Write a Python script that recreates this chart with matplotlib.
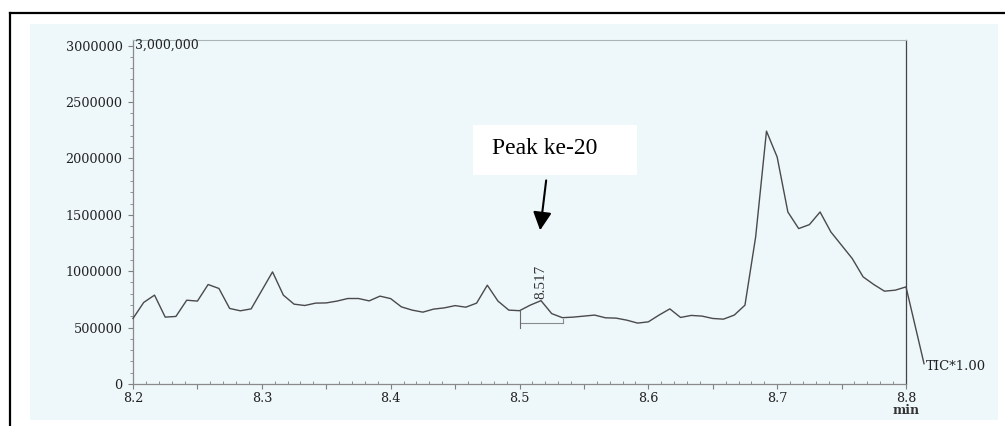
import matplotlib
matplotlib.use('Agg')
import matplotlib.pyplot as plt
from matplotlib.patches import Rectangle
from matplotlib.lines import Line2D
from matplotlib.ticker import MultipleLocator, FuncFormatter

# retention time (min) and total ion current
time = [8.2000, 8.2083, 8.2167, 8.2250, 8.2333, 8.2417, 8.2500, 8.2583, 8.2667, 8.2750,
        8.2833, 8.2917, 8.3000, 8.3083, 8.3167, 8.3250, 8.3333, 8.3417, 8.3500, 8.3583,
        8.3667, 8.3750, 8.3833, 8.3917, 8.4000, 8.4083, 8.4167, 8.4250, 8.4333, 8.4417,
        8.4500, 8.4583, 8.4667, 8.4750, 8.4833, 8.4917, 8.5000, 8.5083, 8.5167, 8.5250,
        8.5333, 8.5417, 8.5500, 8.5583, 8.5667, 8.5750, 8.5833, 8.5917, 8.6000, 8.6083,
        8.6167, 8.6250, 8.6333, 8.6417, 8.6500, 8.6583, 8.6667, 8.6750, 8.6833, 8.6917,
        8.7000, 8.7083, 8.7167, 8.7250, 8.7333, 8.7417, 8.7500, 8.7583, 8.7667, 8.7750,
        8.7833, 8.7917, 8.8000, 8.8140]
tic = [581000, 723000, 788000, 593000, 599000, 743000, 735000, 882000, 847000, 670000,
       649000, 666000, 830000, 994000, 788000, 708000, 696000, 717000, 719000, 735000,
       758000, 758000, 737000, 779000, 757000, 684000, 655000, 637000, 664000, 675000,
       695000, 681000, 717000, 876000, 735000, 655000, 650000, 699000, 739000, 624000,
       588000, 593000, 602000, 611000, 587000, 584000, 566000, 540000, 551000, 611000,
       666000, 590000, 608000, 602000, 581000, 575000, 611000, 699000, 1304000, 2242000,
       2012000, 1525000, 1378000, 1413000, 1525000, 1348000, 1230000, 1112000, 950000, 882000,
       823000, 832000, 861000, 180000]

# integrated peak: apex index and baseline
peak_idx = 38
base_start, base_end = 8.500, 8.534
base_level = 542000

W, H = 1005, 426
fig = plt.figure(figsize=(W / 100, H / 100), dpi=100)
fig.patch.set_facecolor('white')

# scanned sheet background and the black frame
fig.add_artist(Rectangle((30 / W, 1 - 420 / H), 968 / W, 396 / H, transform=fig.transFigure,
                         facecolor='#eef7fa', edgecolor='none', zorder=0))
fig.add_artist(Line2D([10 / W, 1], [1 - 13 / H, 1 - 13 / H], transform=fig.transFigure,
                      color='black', lw=1.6))
fig.add_artist(Line2D([10 / W, 10 / W], [0, 1 - 13 / H], transform=fig.transFigure,
                      color='black', lw=1.6))

ax = fig.add_axes([133 / W, 42 / H, 773 / W, 344 / H])
ax.patch.set_alpha(0)

ax.plot(time, tic, color='#4a4a4a', lw=1.0, clip_on=False, zorder=3)

# baseline marker under the 8.517 peak
ax.plot([base_start, base_end], [base_level, base_level], color='#8a8a8a', lw=0.8)
ax.plot([base_start, base_start], [tic[36], 496000], color='#6a6a6a', lw=0.8)
ax.plot([base_end, base_end], [578000, base_level], color='#8a8a8a', lw=0.8)

ax.annotate(f'{time[peak_idx]:.3f}', xy=(time[peak_idx], tic[peak_idx]), xytext=(0, 2),
            textcoords='offset pixels', rotation=90, ha='center', va='bottom',
            fontsize=11, family='Liberation Serif', color='#333333')

ax.set_xlim(8.2, 8.8)
ax.set_ylim(0, 3050000)

ax.yaxis.set_major_locator(MultipleLocator(500000))
ax.yaxis.set_minor_locator(MultipleLocator(100000))
ax.yaxis.set_major_formatter(FuncFormatter(lambda v, p: f'{int(round(v))}'))

ax.xaxis.set_major_locator(MultipleLocator(0.05))
ax.xaxis.set_minor_locator(MultipleLocator(0.01))
ax.xaxis.set_major_formatter(
    FuncFormatter(lambda v, p: f'{v:.1f}' if abs(v * 10 - round(v * 10)) < 1e-6 else ''))

for lab in ax.get_xticklabels() + ax.get_yticklabels():
    lab.set_family('DejaVu Serif')
ax.tick_params(labelsize=9.2, labelcolor='#222222')
ax.tick_params(axis='y', which='major', direction='out', length=3.6, width=0.8,
               color='#808080', pad=4)
ax.tick_params(axis='y', which='minor', direction='out', length=2.5, width=0.7, color='#909090')
ax.tick_params(axis='x', which='major', direction='out', length=3.6, width=0.8,
               color='#808080', pad=2)
ax.tick_params(axis='x', which='minor', direction='in', length=2.2, width=0.7, color='#909090')

ax.spines['top'].set_color('#aab3b7')
ax.spines['top'].set_linewidth(0.8)
ax.spines['right'].set_color('#444444')
ax.spines['right'].set_linewidth(0.9)
ax.spines['left'].set_color('#8a8a8a')
ax.spines['bottom'].set_color('#8a8a8a')
ax.spines['left'].set_linewidth(0.9)
ax.spines['bottom'].set_linewidth(0.9)

ax.text(8.2015, 3000000, '3,000,000', ha='left', va='center', fontsize=9,
        family='DejaVu Serif', color='#222222')
ax.annotate('TIC*1.00', xy=(time[-1], tic[-1]), xytext=(2, -3), textcoords='offset pixels',
            ha='left', va='center', fontsize=9.5, family='DejaVu Serif', color='#222222',
            annotation_clip=False)
ax.annotate('min', xy=(1, 0), xycoords='axes fraction', xytext=(0, -26),
            textcoords='offset pixels', ha='center', va='center', fontsize=9,
            family='DejaVu Serif', fontweight='bold', color='#333333', annotation_clip=False)

# peak label box and arrow
fig.add_artist(Rectangle((473 / W, 1 - 175 / H), 164 / W, 50 / H, transform=fig.transFigure,
                         facecolor='white', edgecolor='none', zorder=4))
fig.text(545 / W, 1 - 149 / H, 'Peak ke-20', ha='center', va='center', fontsize=17,
         family='Liberation Serif', color='black', zorder=5)
ax.annotate('', xy=(8.5160, 1363000), xytext=(8.5207, 1805000),
            arrowprops=dict(arrowstyle='-|>,head_length=0.55,head_width=0.28',
                            mutation_scale=20, lw=1.5, color='black',
                            shrinkA=0, shrinkB=0))

fig.savefig('out.png', dpi=100)
